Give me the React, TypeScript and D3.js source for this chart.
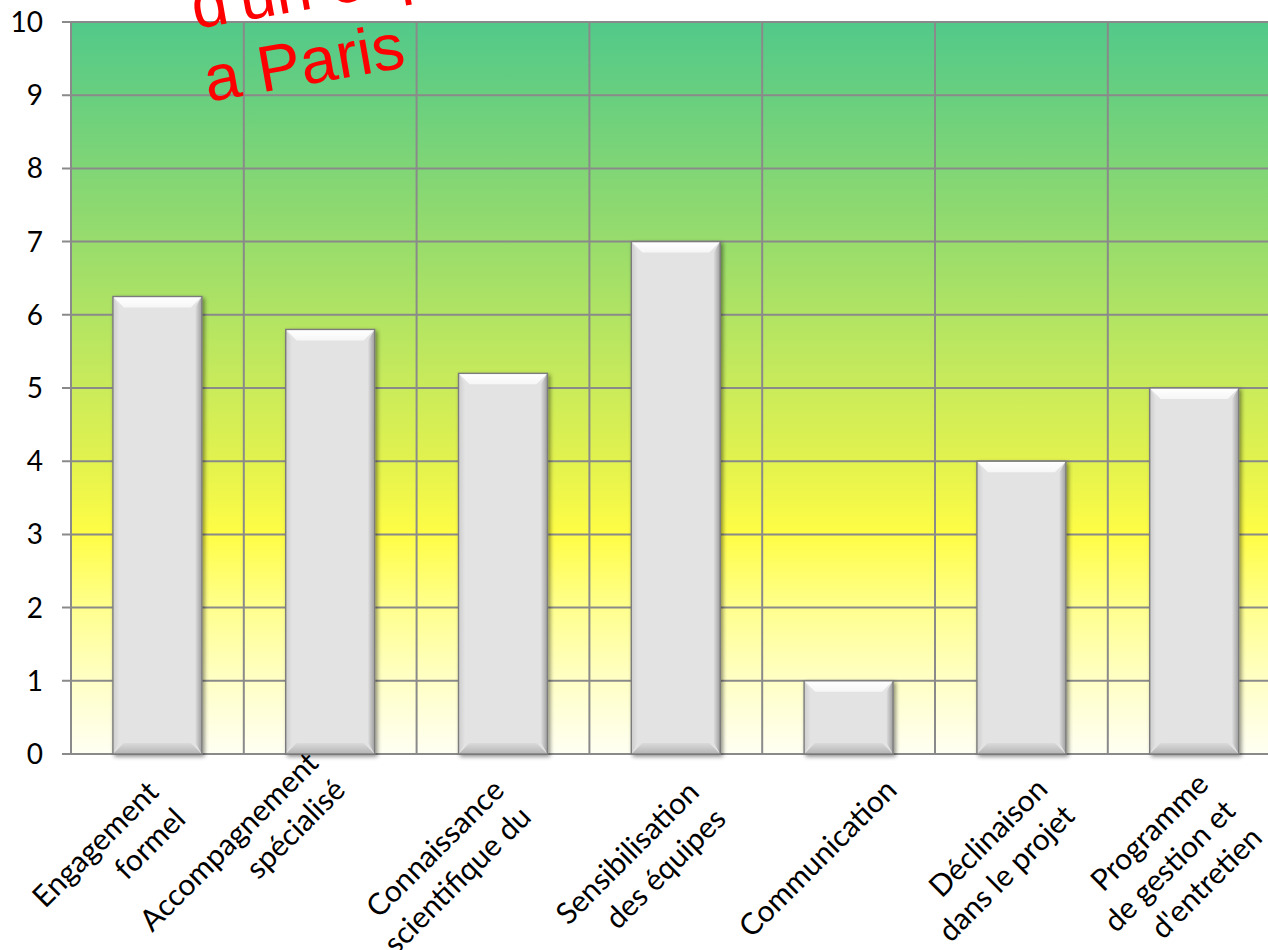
import React from 'react';
import * as d3 from 'd3';

// Criteria scored on a 0–10 scale
const criteria = [
  'Engagement\nformel',
  'Accompagnement\nspécialisé',
  'Connaissance\nscientifique du',
  'Sensibilisation\ndes équipes',
  'Communication',
  'Déclinaison\ndans le projet',
  "Programme\nde gestion et\nd'entretien",
];
const scores = [6.25, 5.8, 5.2, 7, 1, 4, 5];
const yTickValues = [0, 1, 2, 3, 4, 5, 6, 7, 8, 9, 10];
const titleLines = ["d'un espace vert", 'a Paris'];

// where each rotated label's first line ends, relative to its tick (px)
const labelAnchors: [number, number][] = [
  [3, 40],
  [-10, 11],
  [3, 38],
  [25, 40],
  [50, 38],
  [28, 37],
  [16, 32],
];

const WIDTH = 1268;
const HEIGHT = 950;
const LEFT = 71;
const STEP = 172.8;
const TOP = 22;
const BASE = 754;
const BAR_W = 89;
const BEVEL = 11;
const LABEL_FONT = 'Lato, "Noto Sans", sans-serif';
const LABEL_SIZE = 30;
const LINE_GAP = 38;

// background colour ramp, keyed by axis value
const bgRamp: [number, string][] = [
  [10, '#52c98a'],
  [9, '#68cf7f'],
  [7, '#98dc6c'],
  [5, '#caeb5a'],
  [4, '#e2f24e'],
  [3, '#fffd45'],
  [2, '#ffff8e'],
  [1, '#ffffc6'],
  [0, '#fffff3'],
];

export default function App() {
  const x = d3
    .scaleBand<number>()
    .domain(d3.range(criteria.length))
    .range([LEFT, LEFT + STEP * criteria.length]);
  const y = d3.scaleLinear().domain([0, 10]).range([BASE, TOP]);

  return (
    <svg
      width={WIDTH}
      height={HEIGHT}
      style={{ position: 'absolute', left: 0, top: 0, background: '#fff' }}
    >
      <defs>
        <linearGradient id="bg" gradientUnits="userSpaceOnUse" x1={0} x2={0} y1={y(10)} y2={y(0)}>
          {bgRamp.map(([v, c]) => (
            <stop key={v} offset={(y(v) - y(10)) / (y(0) - y(10))} stopColor={c} />
          ))}
        </linearGradient>
        <linearGradient id="facetTop" x1="0" x2="0" y1="0" y2="1">
          <stop offset="0" stopColor="#ffffff" />
          <stop offset="1" stopColor="#f6f6f6" />
        </linearGradient>
        <linearGradient id="facetLeft" x1="0" x2="1" y1="0" y2="0">
          <stop offset="0" stopColor="#cdcdcd" />
          <stop offset="1" stopColor="#e3e3e3" />
        </linearGradient>
        <linearGradient id="facetRight" x1="1" x2="0" y1="0" y2="0">
          <stop offset="0" stopColor="#9c9c9c" />
          <stop offset="1" stopColor="#dedede" />
        </linearGradient>
        <linearGradient id="facetBottom" x1="0" x2="0" y1="1" y2="0">
          <stop offset="0" stopColor="#b4b4b4" />
          <stop offset="1" stopColor="#dadada" />
        </linearGradient>
        <filter id="shadow" x="-20%" y="-20%" width="140%" height="140%">
          <feGaussianBlur in="SourceAlpha" stdDeviation="2" />
          <feOffset dx="2" dy="2" result="o" />
          <feComponentTransfer>
            <feFuncA type="linear" slope="0.45" />
          </feComponentTransfer>
          <feMerge>
            <feMergeNode />
            <feMergeNode in="SourceGraphic" />
          </feMerge>
        </filter>
      </defs>

      {/* plot background */}
      <rect x={LEFT} y={y(10)} width={WIDTH - LEFT} height={y(0) - y(10)} fill="url(#bg)" />

      {/* horizontal grid + ticks */}
      {yTickValues.map((v) => (
        <line key={'h' + v} x1={LEFT - 9} x2={WIDTH} y1={y(v)} y2={y(v)} stroke="#8a8a8a" strokeWidth={2} />
      ))}
      {/* vertical grid */}
      {d3.range(criteria.length + 1).map((i) => {
        const gx = LEFT + i * x.bandwidth();
        return <line key={'v' + i} x1={gx} x2={gx} y1={y(10)} y2={y(0)} stroke="#8a8a8a" strokeWidth={2} />;
      })}

      {/* y tick labels */}
      {yTickValues.map((v) => (
        <text
          key={'t' + v}
          x={43}
          y={y(v)}
          dy="0.36em"
          textAnchor="end"
          fontFamily={LABEL_FONT}
          fontSize={28}
          fill="#000"
        >
          {v}
        </text>
      ))}

      {/* bars */}
      {scores.map((v, i) => {
        const cx = (x(i) as number) + x.bandwidth() / 2;
        const bx = cx - BAR_W / 2;
        const by = y(v);
        const bh = y(0) - y(v);
        const b = Math.min(BEVEL, bh / 3);
        const r = bx + BAR_W;
        const btm = by + bh;
        return (
          <g key={'b' + i} filter="url(#shadow)">
            <rect x={bx} y={by} width={BAR_W} height={bh} fill="#e3e3e3" />
            <polygon points={`${bx},${by} ${r},${by} ${r - b},${by + b} ${bx + b},${by + b}`} fill="url(#facetTop)" />
            <polygon points={`${bx},${by} ${bx + b * 0.6},${by + b} ${bx + b * 0.6},${btm - b} ${bx},${btm}`} fill="url(#facetLeft)" />
            <polygon points={`${r},${by} ${r},${btm} ${r - b * 0.6},${btm - b} ${r - b * 0.6},${by + b}`} fill="url(#facetRight)" />
            <polygon points={`${bx},${btm} ${r},${btm} ${r - b},${btm - b} ${bx + b},${btm - b}`} fill="url(#facetBottom)" />
            <rect x={bx} y={by} width={BAR_W} height={bh} fill="none" stroke="#7c7c7c" strokeWidth={1.4} />
          </g>
        );
      })}

      {/* category labels, rotated 45°, lines right-aligned */}
      {criteria.map((label, i) => {
        const lines = label.split('\n');
        const cx = (x(i) as number) + x.bandwidth() / 2;
        const [dx, dy] = labelAnchors[i];
        return (
          <text
            key={'c' + i}
            transform={`translate(${cx + dx},${BASE + dy}) rotate(-45)`}
            textAnchor="end"
            fontFamily={LABEL_FONT}
            fontSize={LABEL_SIZE}
            fill="#000"
          >
            {lines.map((ln, k) => (
              <tspan key={k} x={0} y={k * LINE_GAP}>
                {ln}
              </tspan>
            ))}
          </text>
        );
      })}

      {/* title */}
      <text
        transform="translate(208,102) rotate(-10)"
        fontFamily='"Liberation Sans", Arial, sans-serif'
        fontSize={65}
        fill="#ff0000"
      >
        {titleLines.map((ln, k) => (
          <tspan key={k} x={0} y={(k - titleLines.length + 1) * 74}>
            {ln}
          </tspan>
        ))}
      </text>
    </svg>
  );
}
